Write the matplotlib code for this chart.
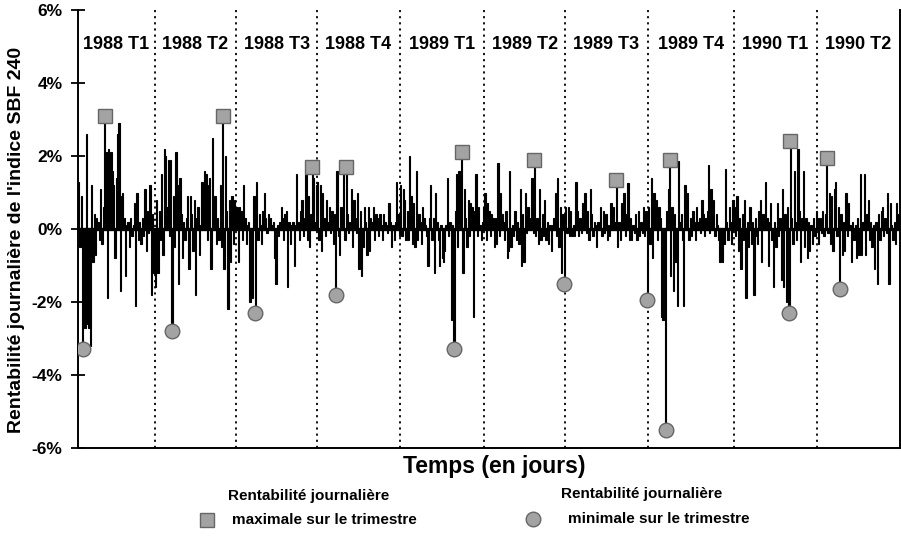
import numpy as np
import matplotlib
matplotlib.use("Agg")
import matplotlib.pyplot as plt
from matplotlib.lines import Line2D

# ---------------- data (daily returns, %) ----------------
quarter_labels = ["1988 T1", "1988 T2", "1988 T3", "1988 T4", "1989 T1",
                  "1989 T2", "1989 T3", "1989 T4", "1990 T1", "1990 T2"]

r_1988_t1 = [1.3, -0.5, 0.9, -3.3, -2.4, -2.7, 2.6, -2.6, -2.7, -3.2,
             1.2, -0.9, 0.4, -0.7, 0.3, 0.2, -0.3, 1.1, -0.4, 0.6,
             3.1, 2.1, -1.9, 2.2, 1.5, 2.1, 1.6, 1.2, -0.8, 1.4,
             2.6, 2.9, -1.7, 0.9, 1.0, 0.3, -1.3, 0.1, 0.2, -0.5,
             0.3, -0.2, 0.1, 0.7, -2.1, 1.0, -0.3, 0.2, -0.4, 0.3,
             -0.2, 1.1, -0.6, 0.5, -0.1, 1.2, -1.8, 0.4, -1.2]
r_1988_t2 = [-1.6, 0.8, -1.2, 0.5, -0.3, 1.5, -0.7, 2.2, 2.0, 0.6,
             1.9, -0.2, 1.9, -2.8, 0.9, -0.5, 2.1, 1.2, -1.5, 1.4,
             0.4, -0.8, 0.2, -0.3, 0.3, 0.9, -1.1, 0.9, 0.4, -0.6,
             0.8, -1.8, 0.3, 0.6, -0.7, 0.1, 1.3, 0.4, 1.6, 1.5,
             -0.3, 1.2, 1.4, -1.1, 2.5, 0.6, 0.9, -0.4, 0.3, -0.3,
             1.2, -0.5, 3.1, -1.1, 2.0, 0.5, -2.2, 0.8, -0.9, 0.9,
             -0.4, 0.8, 0.3]
r_1988_t3 = [0.6, -0.9, 0.6, 0.5, -0.3, 1.2, 0.3, -0.4, 0.1, 0.2,
             -2.0, -0.4, -1.9, 0.9, -2.3, 1.3, -0.3, 0.4, 0.1, -0.4,
             0.5, 1.0, 0.3, -0.1, 0.4, 0.2, 0.3, 0.1, 0.2, -0.8,
             -1.5, 0.1, -0.2, 0.2, 0.6, 0.3, -0.3, 0.4, 0.5, -1.6,
             0.2, -0.4, 0.1, 0.2, -1.0, 0.1, 1.5, 0.2, -0.3, 0.5,
             0.8, -0.2, 0.3, 1.5, -0.3, 0.9, -0.5, 0.4, 1.7, 1.4,
             0.2, 1.2]
r_1988_t4 = [1.3, -0.3, 1.2, -0.6, 1.0, 0.3, -0.2, 0.8, 0.2, 0.6,
             -0.1, 0.5, -0.4, 0.4, -1.8, 1.6, -0.2, -0.7, 0.6, 0.3,
             1.6, -0.3, 1.7, 0.4, -0.1, 0.2, 1.1, -0.5, 0.8, 0.3,
             -0.1, 1.0, -1.1, 0.5, -1.3, -0.5, 0.6, 0.2, -0.7, 0.6,
             -0.6, 0.3, 0.2, 0.6, -0.3, 0.4, 0.3, -0.2, 0.4, 0.1,
             -0.3, 0.4, 0.2, 0.1, -0.1, 0.7, 0.2, -0.5, 0.1, -0.3,
             0.2, 1.3, 0.4, -0.2]
r_1989_t1 = [1.2, -0.2, 1.1, 0.8, -0.3, 0.5, -0.3, 2.0, 0.9, -0.4,
             0.7, -0.5, 1.6, -0.3, 0.4, 0.2, -0.4, 0.6, 0.3, 0.1,
             -0.2, -1.0, 0.3, 1.2, -0.3, 0.3, -1.2, 1.0, 0.2, -0.3,
             -1.0, 0.1, -0.8, -0.9, -0.6, 0.1, 1.4, -0.2, 0.2, -2.5,
             0.1, -3.3, 0.5, 1.5, -0.5, 1.6, 0.3, 2.1, -1.2, 1.1,
             0.3, -0.5, 0.8, -0.2, 0.7, 0.6, -2.4, 0.5, 1.5, -0.2,
             0.6, 0.1, -0.3, 0.2, 0.6]
r_1989_t2 = [1.0, -0.3, 0.7, 0.5, -0.2, 0.4, 0.3, -0.5, 0.3, -0.4,
             1.8, -0.2, 1.0, 0.4, 0.2, -0.3, 0.5, -0.8, -0.6, 1.6,
             -0.5, 0.1, -0.2, 0.5, -0.3, 0.2, -0.4, 1.1, -1.0, 0.4,
             -0.9, 1.0, -0.1, 0.6, 0.2, 0.3, 1.4, -0.1, 1.9, -0.2,
             0.3, -0.4, 1.1, -0.3, 0.4, -0.2, 0.8, -0.3, 0.2, -0.4,
             0.1, -0.6, 0.1, 0.3, 1.0, -0.2, 1.4, -0.5, 0.6, -1.2,
             0.4, -1.5]
r_1989_t3 = [0.6, -0.1, 0.6, -0.2, 0.5, -0.2, 0.1, -0.2, 1.3, 0.5,
             -0.2, 0.3, -0.1, 0.7, 0.3, 1.0, -0.1, 0.5, -0.3, 1.1,
             0.4, -0.2, 0.2, 0.1, -0.5, 0.2, 0.1, 0.6, -0.2, 0.5,
             -0.1, 0.4, -0.3, 0.1, -0.2, 0.7, 0.3, 0.6, 0.2, 1.35,
             -0.5, 0.2, -0.3, 0.7, 0.3, 1.0, -0.2, 0.4, 1.25, -0.3,
             0.3, -0.3, 0.1, -0.1, 0.4, -0.3, 0.5, -0.2, 0.2, -0.1,
             0.6, -0.2, 0.5, -1.95]
r_1989_t4 = [0.6, -0.4, 1.4, -0.8, 1.0, 0.3, 0.8, -0.3, 0.6, 0.3,
             -2.4, -2.5, -2.0, -5.5, 0.5, 1.1, 1.9, -1.3, 0.6, -1.7,
             0.4, -0.9, -2.1, 1.85, 0.2, 0.4, -0.3, -2.1, 1.2, 0.3,
             1.0, -0.3, 0.3, -0.2, 0.5, 0.2, -0.3, 0.6, 0.2, 0.3,
             -0.1, 0.8, 0.4, -0.2, 0.3, 0.5, 1.75, -0.1, 1.1, 0.3,
             0.8, -0.2, 0.4, 0.1, -0.3, -0.9, -0.6, -0.9, -0.4, 1.65,
             0.2, -0.3, 0.6, 0.2, -0.4, 0.8]
r_1990_t1 = [0.6, -0.2, 0.9, -0.6, 0.3, -1.1, 0.4, -0.3, 0.8, -1.9,
             0.2, -0.5, 0.6, -0.4, 0.2, -1.8, 0.3, -0.2, -0.4, 0.5,
             0.8, -0.9, 0.4, 0.2, 1.3, 0.3, -1.0, 0.2, 0.7, -0.3,
             -1.6, 0.2, -0.5, 0.7, -0.2, 0.3, -1.4, 1.1, -1.6, 0.4,
             -2.0, 0.6, -2.3, 2.4, 0.3, -0.4, 1.6, 0.2, -0.3, 2.2,
             0.5, -0.9, 0.3, 1.6, -0.5, 0.3, -0.8, 0.2, -0.6, 0.1,
             -0.4, 0.3, -0.2, 0.5]
r_1990_t2 = [0.3, -0.4, 0.3, -0.1, 0.5, -0.2, 0.4, 1.95, -0.1, 1.0,
             -0.4, 0.9, -0.6, 1.1, 1.3, -0.2, 0.6, -1.65, 0.4, -0.7,
             0.2, -0.6, 1.0, -0.2, 0.7, 0.1, -0.9, 0.2, -0.3, 0.1,
             -0.8, 0.3, -0.7, 1.5, -0.7, 0.2, 1.5, -0.7, 0.4, 0.8,
             -0.3, 0.2, -0.5, 0.1, -1.1, 0.2, -1.5, 0.4, -0.3, 0.5,
             0.6, -0.2, 0.3, -0.1, 1.0, -1.5, 0.7, 0.1, -0.3, 0.2,
             -0.4, 0.7, 0.4, -0.3]

quarters = [r_1988_t1, r_1988_t2, r_1988_t3, r_1988_t4, r_1989_t1,
            r_1989_t2, r_1989_t3, r_1989_t4, r_1990_t1, r_1990_t2]

y_ticks = [-6, -4, -2, 0, 2, 4, 6]
y_tick_labels = ["-6%", "-4%", "-2%", "0%", "2%", "4%", "6%"]

# ---------------- figure ----------------
FONT = ["Liberation Sans", "DejaVu Sans"]
plt.rcParams["font.family"] = FONT

returns = np.concatenate([np.asarray(q, dtype=float) for q in quarters])
lengths = [len(q) for q in quarters]
starts = np.cumsum([0] + lengths[:-1])
days = np.arange(len(returns))

W, H = 901, 539
fig = plt.figure(figsize=(W / 100, H / 100), dpi=100)
ax = fig.add_axes([78 / W, (H - 448) / H, 822 / W, 438 / H])

ax.bar(days, returns, width=1.0, color="black", edgecolor="black",
       linewidth=0.8, zorder=2)
ax.axhline(0, color="black", lw=2.4, zorder=3)

for s in starts[1:]:
    ax.axvline(s - 0.5, color="black", ls=(0, (1.2, 2.2)), lw=1.3, zorder=1)

sq_style = dict(marker="s", ms=9.5, mfc="#a3a3a3", mec="#666666", mew=1.0,
                ls="none", zorder=6)
ci_style = dict(marker="o", ms=10.5, mfc="#a3a3a3", mec="#666666", mew=1.0,
                ls="none", zorder=6)

for s, q, lab, n in zip(starts, quarters, quarter_labels, lengths):
    qa = np.asarray(q, dtype=float)
    ax.plot(s + qa.argmax(), qa.max(), **sq_style)
    ax.plot(s + qa.argmin(), qa.min(), **ci_style)
    ax.text(s + n / 2 - 0.5, 5.05, lab, ha="center", va="center",
            fontsize=13, fontweight="bold")

ax.set_xlim(-0.5, len(returns) - 0.5)
ax.set_ylim(-6, 6)
ax.set_yticks(y_ticks)
ax.set_yticklabels(y_tick_labels, fontweight="bold", fontsize=12.5)
ax.tick_params(axis="y", direction="inout", length=10, width=1.3, pad=6)
ax.set_xticks([])

ax.spines["top"].set_visible(False)
for sp in ("left", "right", "bottom"):
    ax.spines[sp].set_linewidth(1.4)

ax.set_ylabel("Rentabilité journalière de l'indice SBF 240",
              fontsize=14, fontweight="bold")
ax.yaxis.set_label_coords(-53 / 822, 0.475)

fig.text(494 / W, 1 - 467 / H, "Temps (en jours)", ha="center", va="center",
         fontsize=16.5, fontweight="bold")

# legend
def fx(x):
    return x / W

def fy(y):
    return 1 - y / H

fig.add_artist(Line2D([fx(207)], [fy(520)], transform=fig.transFigure,
                      **{k: v for k, v in sq_style.items() if k != "zorder"}))
fig.add_artist(Line2D([fx(533)], [fy(519)], transform=fig.transFigure,
                      **{k: v for k, v in ci_style.items() if k != "zorder"}))
leg_kw = dict(ha="left", va="center", fontsize=11, fontweight="bold")
fig.text(fx(228), fy(496), "Rentabilité journalière", **leg_kw)
fig.text(fx(232), fy(520), "maximale sur le trimestre", **leg_kw)
fig.text(fx(561), fy(494), "Rentabilité journalière", **leg_kw)
fig.text(fx(568), fy(519), "minimale sur le trimestre", **leg_kw)

fig.savefig("out.png", dpi=100)
